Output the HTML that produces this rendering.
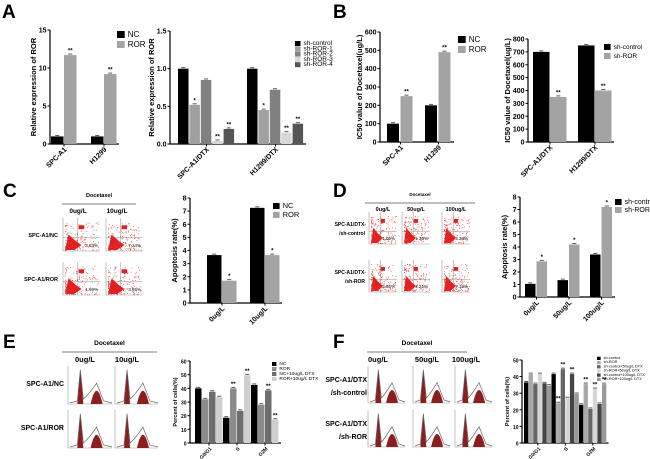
<!DOCTYPE html>
<html><head><meta charset="utf-8"><style>
body{margin:0;background:#fff}svg{display:block;font-family:"Liberation Sans",Arial,sans-serif}
</style></head><body>
<svg id="fig" width="650" height="459" viewBox="0 0 650 459" xmlns="http://www.w3.org/2000/svg">
<g font-weight="bold" font-size="19" fill="#000">
<text x="2" y="18">A</text>
<text x="333" y="18">B</text>
<text x="3" y="197">C</text>
<text x="333" y="197">D</text>
<text x="3" y="348">E</text>
<text x="333" y="348">F</text>
</g>
</svg>
<script>
// ---- data ----
const a1Cats=["SPC-A1","H1299"];
const a1NC=[1,1];const a1ROR=[11.7,9.2];
const a2Cats=["SPC-A1/DTX","H1299/DTX"];
const a2Ctrl=[1,1];const a2R1=[0.52,0.45];const a2R2=[0.85,0.72];const a2R3=[0.04,0.15];const a2R4=[0.2,0.27];
const b1Cats=["SPC-A1","H1299"];
const b1NC=[100,200];const b1ROR=[250,490];
const b2Cats=["SPC-A1/DTX","H1299/DTX"];
const b2Ctrl=[700,750];const b2ROR=[350,400];
const cCats=["0ug/L","10ug/L"];
const cNC=[3.65,7.25];const cROR=[1.7,3.65];
const dCats=["0ug/L","50ug/L","100ug/L"];
const dCtrl=[1.05,1.35,3.4];const dROR=[2.85,4.2,7.2];
const eCats=["G0/G1","S","G2M"];
const eNC=[40,18.5,42.5];const eROR=[32,40,28];const eNC10=[37.5,23.5,38.5];const eROR10=[33.5,49.5,17];
const fCats=["G0/G1","S","G2M"];
const fCtrl=[36.5,41.5,23];const fROR=[41.5,24,35.5];const fC50=[35.5,44.5,20.5];const fR50=[41.5,27,32.5];const fC100=[36,41.5,23.5];const fR100=[34.5,29.5,35.5];

const NS="http://www.w3.org/2000/svg";const svg=document.getElementById('fig');
function el(t,a,p){const e=document.createElementNS(NS,t);for(const k in a)e.setAttribute(k,a[k]);(p||svg).appendChild(e);return e;}
function txt(x,y,s,a,p){const e=el('text',Object.assign({x:x,y:y},a),p);e.textContent=s;return e;}

function chart(c){
  const g=el('g',{});
  
  
  const ys=v=>c.zeroY-(v/c.max)*(c.zeroY-c.topY);
  const xEnd=c.ax+c.pad+c.cats.length*c.spacing-c.spacing+c.series.length*c.step+2;
  const axis=el('path',{d:`M${c.ax} ${c.topY}V${c.zeroY}H${xEnd}`,stroke:'#000','stroke-width':1.2,fill:'none'},g);
  
  
  for(let v=0;v<=c.max+1e-9;v+=c.tick){
    const y=ys(v);
    el('line',{x1:c.ax-2.5,x2:c.ax,y1:y,y2:y,stroke:'#000','stroke-width':1},g);
    const t=txt(c.ax-3.5,y+2.5,c.fmt?c.fmt(v):String(v),{'font-size':c.fs||7,'font-weight':'bold','text-anchor':'end'},g);
    
    
  }
  const yt=txt(0,0,c.ytitle,{'font-size':c.yfs||7.5,'font-weight':'bold','text-anchor':'middle',transform:`translate(${c.ax-c.ytOff},${(c.topY+c.zeroY)/2}) rotate(-90)`},g);
  
  
  c.cats.forEach((cat,i)=>{
    const gx=c.ax+c.pad+i*c.spacing;
    c.series.forEach((s,j)=>{
      const v=s.vals[i];const x=gx+j*c.step;const y=ys(v);
      const r=el('rect',{x:x,y:y,width:c.bw,height:c.zeroY-y,fill:s.color},g);
      
      
      el('line',{x1:x+c.bw/2-2,x2:x+c.bw/2+2,y1:y-1,y2:y-1,stroke:'#333','stroke-width':0.8},g);
      if(s.stars&&s.stars[i]){const st=txt(x+c.bw/2,y-2.5,s.stars[i],{'font-size':6,'font-weight':'bold','text-anchor':'middle'},g);
        
        }
    });
    const cx=gx+(c.series.length*c.step)/2;
    el('line',{x1:cx,x2:cx,y1:c.zeroY,y2:c.zeroY+2.5,stroke:'#000'},g);
    const xl=txt(0,0,cat,{'font-size':c.xfs||7,'font-weight':'bold','text-anchor':'end',transform:`translate(${cx+3},${c.zeroY+6}) rotate(-45)`},g);
    
    
  });
  c.series.forEach((s,j)=>{
    const ly=c.ly+j*c.lstep;
    const sw=el('rect',{x:c.lx,y:ly-c.lsz+1,width:c.lsz*1.1,height:c.lsz,fill:s.color},g);
    
    
    const lt=txt(c.lx+c.lsz*1.1+3,ly,s.label,{'font-size':c.lfs,fill:'#000'},g);
    
    
  });
}

chart({name:'chart-a1-ror-expression',cats:a1Cats,ax:50,zeroY:144,topY:30,max:15,tick:5,pad:1,bw:12.5,step:13,spacing:40,ytitle:'Relative expression of ROR',ytOff:14,
 series:[{key:'nc',label:'NC',color:'#000',vals:a1NC},{key:'ror',label:'ROR',color:'#a3a3a3',vals:a1ROR,stars:['**','**']}],lx:117,ly:37,lstep:10,lsz:7,lfs:8});
chart({name:'chart-a2-knockdown',cats:a2Cats,ax:170,zeroY:144,topY:31,max:1.5,tick:0.5,fmt:v=>v.toFixed(1),pad:8,bw:10.5,step:11.4,spacing:69,ytitle:'Relative expression of ROR',ytOff:16,
 series:[{key:'sh-control',label:'sh-control',color:'#000',vals:a2Ctrl},{key:'sh-ror-1',label:'sh-ROR-1',color:'#a0a0a0',vals:a2R1,stars:['*','*']},{key:'sh-ror-2',label:'sh-ROR-2',color:'#808080',vals:a2R2},{key:'sh-ror-3',label:'sh-ROR-3',color:'#d8d8d8',vals:a2R3,stars:['**','**']},{key:'sh-ror-4',label:'sh-ROR-4',color:'#555',vals:a2R4,stars:['**','**']}],lx:295,ly:45,lstep:5.3,lsz:5,lfs:6.5});
chart({name:'chart-b1-ic50',cats:b1Cats,ax:380,zeroY:142,topY:32,max:600,tick:100,pad:7,bw:12,step:13.5,spacing:38,ytitle:'IC50 value of Docetaxel(ug/L)',ytOff:18,
 series:[{key:'nc',label:'NC',color:'#000',vals:b1NC},{key:'ror',label:'ROR',color:'#a3a3a3',vals:b1ROR,stars:['**','**']}],lx:458,ly:42,lstep:10,lsz:7,lfs:8});
chart({name:'chart-b2-ic50-knockdown',cats:b2Cats,ax:528,zeroY:142,topY:39,max:800,tick:100,pad:5,bw:16.5,step:17,spacing:45,ytitle:'IC50 value of Docetaxel(ug/L)',ytOff:18,
 series:[{key:'sh-control',label:'sh-control',color:'#000',vals:b2Ctrl},{key:'sh-ror',label:'sh-ROR',color:'#a3a3a3',vals:b2ROR,stars:['**','**']}],lx:604,ly:49,lstep:9,lsz:6,lfs:6.5});
chart({name:'chart-c-apoptosis',cats:cCats,ax:190,zeroY:303,topY:198,max:8,tick:1,pad:17,bw:14.5,step:15,spacing:43,ytitle:'Apoptosis rate(%)',ytOff:13,
 series:[{key:'nc',label:'NC',color:'#000',vals:cNC},{key:'ror',label:'ROR',color:'#a3a3a3',vals:cROR,stars:['*','*']}],lx:273,ly:208,lstep:9,lsz:6,lfs:7.5});
chart({name:'chart-d-apoptosis',cats:dCats,ax:520,zeroY:297,topY:197,max:8,tick:1,pad:5,bw:10.5,step:11.5,spacing:32.5,ytitle:'Apoptosis rate(%)',ytOff:13,
 series:[{key:'sh-control',label:'sh-control',color:'#000',vals:dCtrl},{key:'sh-ror',label:'sh-ROR',color:'#a3a3a3',vals:dROR,stars:['*','*','*']}],lx:615,ly:204,lstep:8,lsz:6,lfs:7});
chart({name:'chart-e-cell-cycle',cats:eCats,ax:190,zeroY:443,topY:361,max:60,tick:10,pad:5,bw:6.5,step:7,spacing:28,ytitle:'Percent of cells(%)',ytOff:13,fs:5,xfs:5,yfs:5.5,
 series:[{key:'nc',label:'NC',color:'#000',vals:eNC},{key:'ror',label:'ROR',color:'#8c8c8c',vals:eROR,stars:['','**','']},{key:'nc-10',label:'NC+10ug/L DTX',color:'#6e6e6e',vals:eNC10,stars:['','','**']},{key:'ror-10',label:'ROR+10ug/L DTX',color:'#cfcfcf',vals:eROR10,stars:['','**','**']}],lx:272,ly:365,lstep:5,lsz:4,lfs:4.8});
chart({name:'chart-f-cell-cycle',cats:fCats,ax:522,zeroY:443,topY:360,max:50,tick:10,pad:2,bw:4.3,step:4.6,spacing:27.5,ytitle:'Percent of cells(%)',ytOff:13,fs:5,xfs:5,yfs:5.5,
 series:[{key:'sh-control',label:'sh-control',color:'#000',vals:fCtrl},{key:'sh-ror',label:'sh-ROR',color:'#a8a8a8',vals:fROR,stars:['','**','**']},{key:'c50',label:'sh-control+50ug/L DTX',color:'#666',vals:fC50,stars:['','**','']},{key:'r50',label:'sh-ROR+50ug/L DTX',color:'#d6d6d6',vals:fR50,stars:['','','**']},{key:'c100',label:'sh-control+100ug/L DTX',color:'#444',vals:fC100,stars:['','**','']},{key:'r100',label:'sh-ROR+100ug/L DTX',color:'#999',vals:fR100,stars:['','','**']}],lx:597,ly:359,lstep:4.2,lsz:3.3,lfs:3.8});

// ---- flow cytometry / histogram panels (decorative images) ----
let seed=7;function rnd(){seed=(seed*16807)%2147483647;return seed/2147483647;}
function header(name,x1,x2,y,title,cols,fs){
  const g=el('g',{});
  txt((x1+x2)/2,y-7,'Docetaxel',{'font-size':fs,'font-weight':'bold','text-anchor':'middle'},g);
  el('line',{x1:x1,x2:x2,y1:y,y2:y,stroke:'#555','stroke-width':0.8},g);
  cols.forEach(c=>txt(c[0],y+c[2],c[1],{'font-size':fs+1,'font-weight':'bold','text-anchor':'middle'},g));
}
function dot(x,y,w,h,pct,name){
  const g=el('g',{});
  el('path',{d:`M${x} ${y}V${y+h}H${x+w}`,stroke:'#999','stroke-width':0.6,fill:'none'},g);
  el('line',{x1:x+w*0.4,x2:x+w*0.4,y1:y,y2:y+h,stroke:'#888','stroke-width':0.5},g);
  el('line',{x1:x,x2:x+w,y1:y+h*0.6,y2:y+h*0.6,stroke:'#888','stroke-width':0.5},g);
  el('path',{d:`M${x+2} ${y+h-1}L${x+w*0.15} ${y+h*0.5}L${x+w*0.35} ${y+h*0.7}L${x+w*0.5} ${y+h-6}L${x+w*0.3} ${y+h-1}Z`,fill:'#e02020'},g);
  for(let i=0;i<140;i++){const px=x+2+Math.pow(rnd(),1.8)*w*0.9,py=y+h-1-Math.pow(rnd(),1.5)*h*0.85;
    el('rect',{x:px,y:py,width:0.8,height:0.8,fill:'#e33'},g);}
  el('rect',{x:x+w*0.42,y:y+h*0.22,width:w*0.15,height:h*0.12,fill:'#d22'},g);
  txt(x+w-2,y+h-4,pct,{'font-size':4.5,'text-anchor':'end'},g);
}
function hist(x,y,w,h,name){
  const g=el('g',{});
  el('path',{d:`M${x} ${y}V${y+h}H${x+w}`,stroke:'#999','stroke-width':0.6,fill:'none'},g);
  const p1=x+w*0.28,p2=x+w*0.65;
  el('path',{d:`M${p1-3} ${y+h}L${p1-1} ${y+h*0.35}L${p1} ${y+h*0.1}L${p1+1} ${y+h*0.35}L${p1+3} ${y+h}Z`,fill:'#8b1e1e'},g);
  el('path',{d:`M${p2-6} ${y+h}Q${p2} ${y+h*0.3} ${p2+6} ${y+h}Z`,fill:'#8b1e1e'},g);
  el('path',{d:`M${x+2} ${y+h-1}L${p1-3} ${y+h-3}L${p1} ${y+h*0.1}L${p1+3} ${y+h-5}Q${(p1+p2)/2} ${y+h-9} ${p2} ${y+h*0.45}L${p2+7} ${y+h-3}L${x+w} ${y+h-1}`,stroke:'#666','stroke-width':0.7,fill:'none'},g);
}
header('flow-c-header',62,136,204,'Docetaxel',[[78,'0ug/L',9],[117,'10ug/L',9]],5.5);
const cPct=[["3.63%","7.24%"],["1.69%","3.65%"]];
[[218,"SPC-A1/NC"],[262,"SPC-A1/ROR"]].forEach((r,i)=>{
  txt(58,r[0]+19,r[1],{'font-size':5.5,'font-weight':'bold','text-anchor':'end'});
  dot(63,r[0],37,33,cPct[i][0],'flow-c-'+i+'-0');dot(106,r[0],37,33,cPct[i][1],'flow-c-'+i+'-1');});
header('flow-d-header',365,475,203,'Docetaxel',[[383,'0ug/L',8],[416,'50ug/L',8],[456,'100ug/L',8]],4.5);
const dPct=[["1.05%","1.36%","3.36%"],["2.86%","4.21%","7.19%"]];
[[212,"SPC-A1/DTX-","/sh-control"],[260,"SPC-A1/DTX-","/sh-ROR"]].forEach((r,i)=>{
  txt(366,r[0]+14,r[1],{'font-size':5,'font-weight':'bold','text-anchor':'end'});
  txt(365,r[0]+23,r[2],{'font-size':5,'font-weight':'bold','text-anchor':'end'});
  [369,402,442].forEach((x,j)=>dot(x,r[0],28,32,dPct[i][j],'flow-d-'+i+'-'+j));});
header('hist-e-header',62,157,352,'Docetaxel',[[85,'0ug/L',10],[127,'10ug/L',10]],6.5);
[[366,"SPC-A1/NC"],[410,"SPC-A1/ROR"]].forEach((r,i)=>{
  txt(64,r[0]+20,r[1],{'font-size':7,'font-weight':'bold','text-anchor':'end'});
  hist(68,r[0],44,38,'hist-e-'+i+'-0');hist(115,r[0],43,38,'hist-e-'+i+'-1');});
header('hist-f-header',367,467,352,'Docetaxel',[[378,'0ug/L',10],[427,'50ug/L',10],[466,'100ug/L',10]],6.5);
[[366,"SPC-A1/DTX","/sh-control"],[410,"SPC-A1/DTX","/sh-ROR"]].forEach((r,i)=>{
  txt(367,r[0]+16,r[1],{'font-size':7,'font-weight':'bold','text-anchor':'end'});
  txt(367,r[0]+29,r[2],{'font-size':7,'font-weight':'bold','text-anchor':'end'});
  [368,413,455].forEach((x,j)=>hist(x,r[0],37,37,'hist-f-'+i+'-'+j));});
</script>
</body></html>
